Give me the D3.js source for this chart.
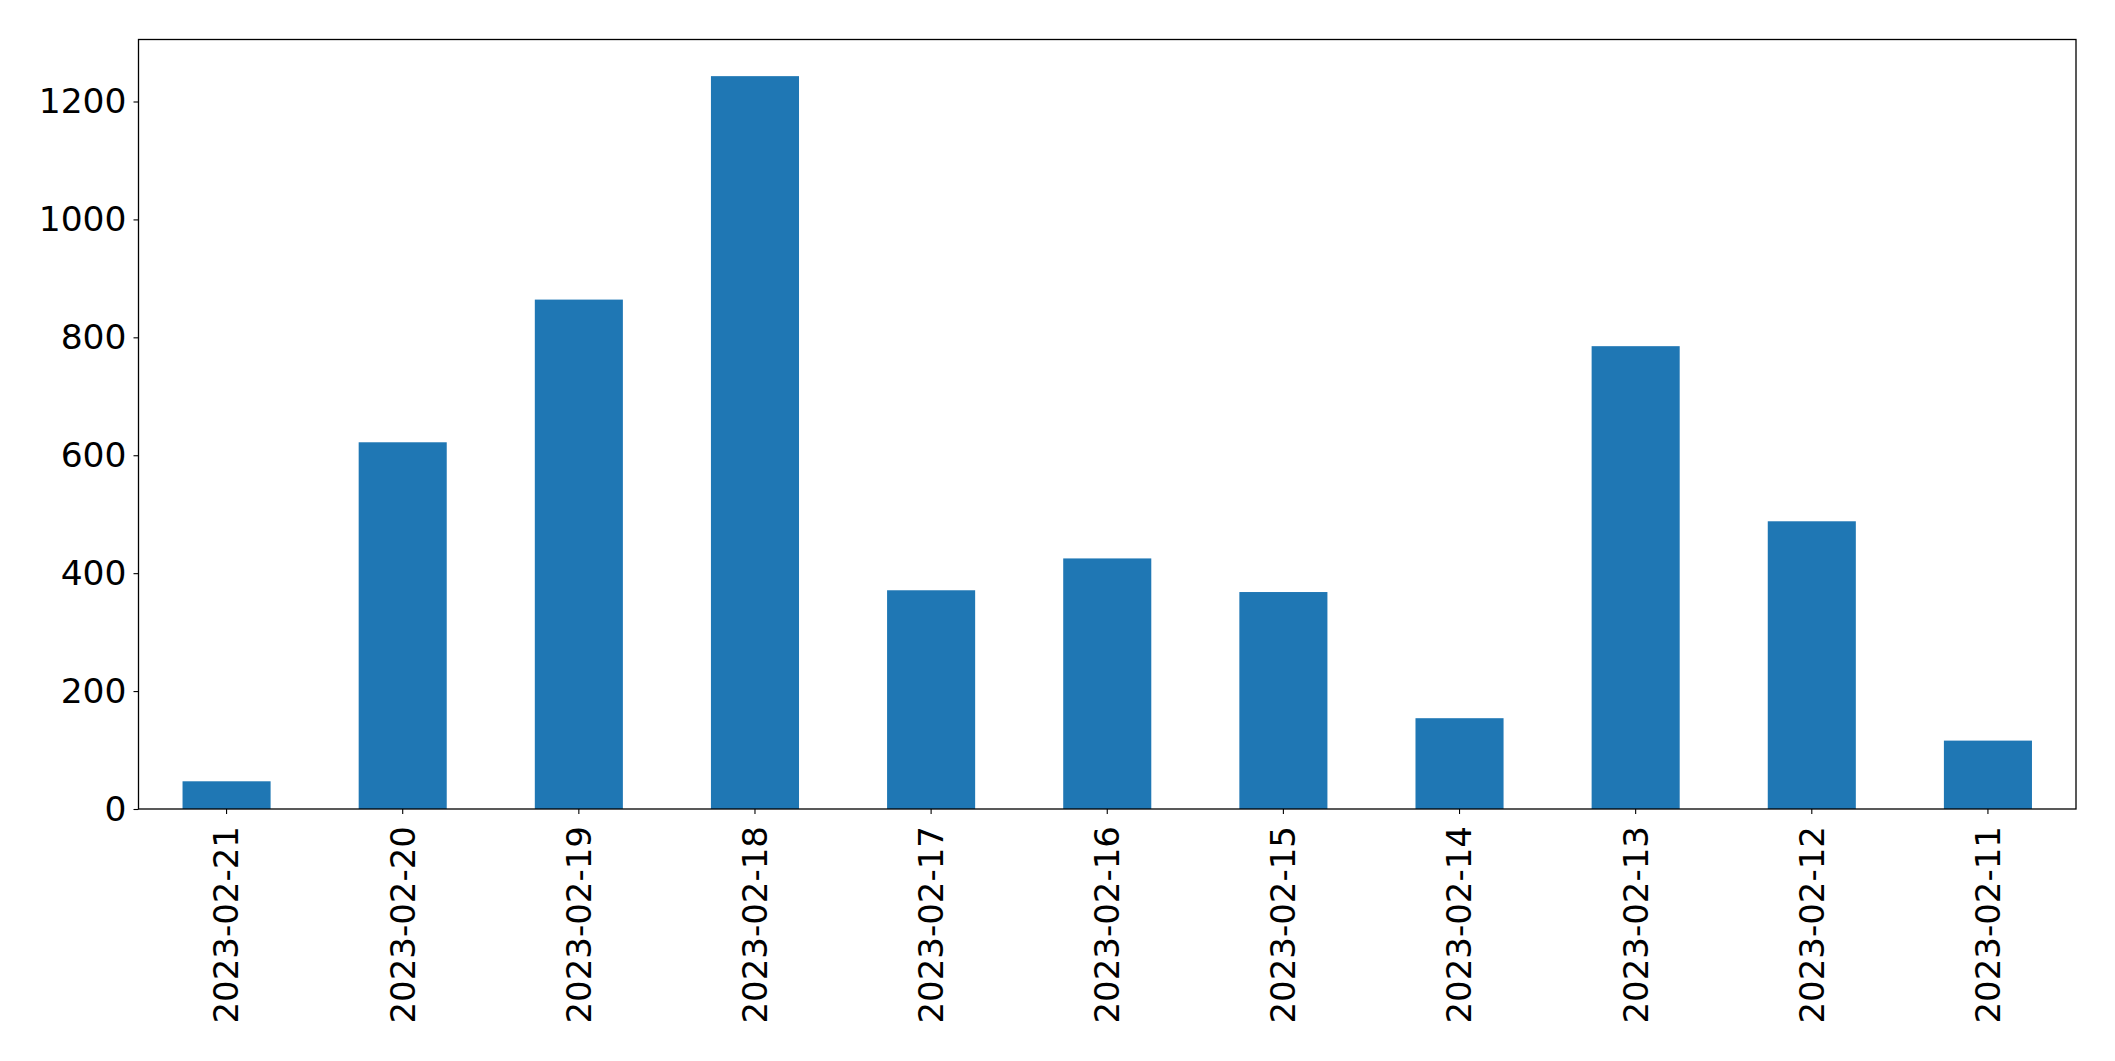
<!DOCTYPE html>
<html>
<head>
<meta charset="utf-8">
<script src="https://cdn.jsdelivr.net/npm/d3@7"></script>
<style>
  html, body { margin: 0; padding: 0; background: #fff; }
  svg { display: block; }
  text { font-family: "DejaVu Sans", sans-serif; }
</style>
</head>
<body>
<svg id="chart" width="2115" height="1061"></svg>
<script>
const categories = ["2023-02-21","2023-02-20","2023-02-19","2023-02-18","2023-02-17","2023-02-16","2023-02-15","2023-02-14","2023-02-13","2023-02-12","2023-02-11"];
const values = [47, 622, 864, 1243, 371, 425, 368, 154, 785, 488, 116];
const yTicks = [0, 200, 400, 600, 800, 1000, 1200];

const W = 2115, H = 1061;
const m = { left: 138.5, right: 2076, top: 39.5, bottom: 809 };
const svg = d3.select("#chart");

const x = d3.scaleBand().domain(categories).range([m.left, m.right]).paddingInner(0.5).paddingOuter(0.25);
const y = d3.scaleLinear().domain([0, d3.max(values) * 1.05]).range([m.bottom, m.top]);

svg.append("g").selectAll("rect").data(values).join("rect")
  .attr("x", (d, i) => x(categories[i]))
  .attr("width", x.bandwidth())
  .attr("y", d => y(d))
  .attr("height", d => y(0) - y(d))
  .attr("fill", "#1f77b4");

const yAxis = svg.append("g").attr("transform", `translate(${m.left},0)`)
  .call(d3.axisLeft(y).tickValues(yTicks).tickSize(5).tickPadding(7).tickFormat(d3.format("d")));
yAxis.select(".domain").remove();
yAxis.selectAll(".tick line").attr("stroke", "#000").attr("stroke-width", 1.1);
yAxis.selectAll("text").attr("font-size", 34.5).attr("fill", "#000").style("font-family", "DejaVu Sans");

const xAxis = svg.append("g").attr("transform", `translate(0,${m.bottom})`)
  .call(d3.axisBottom(x).tickSize(5).tickPadding(7));
xAxis.select(".domain").remove();
xAxis.selectAll(".tick line").attr("stroke", "#000").attr("stroke-width", 1.1);
xAxis.selectAll("text")
  .attr("font-size", 34).attr("fill", "#000").style("font-family", "DejaVu Sans")
  .attr("transform", "rotate(-90)")
  .attr("x", -17).attr("y", 0).attr("dy", "0.35em")
  .style("text-anchor", "end");

svg.append("rect")
  .attr("x", m.left).attr("y", m.top)
  .attr("width", m.right - m.left).attr("height", m.bottom - m.top)
  .attr("fill", "none").attr("stroke", "#000").attr("stroke-width", 1.3);
</script>
</body>
</html>
